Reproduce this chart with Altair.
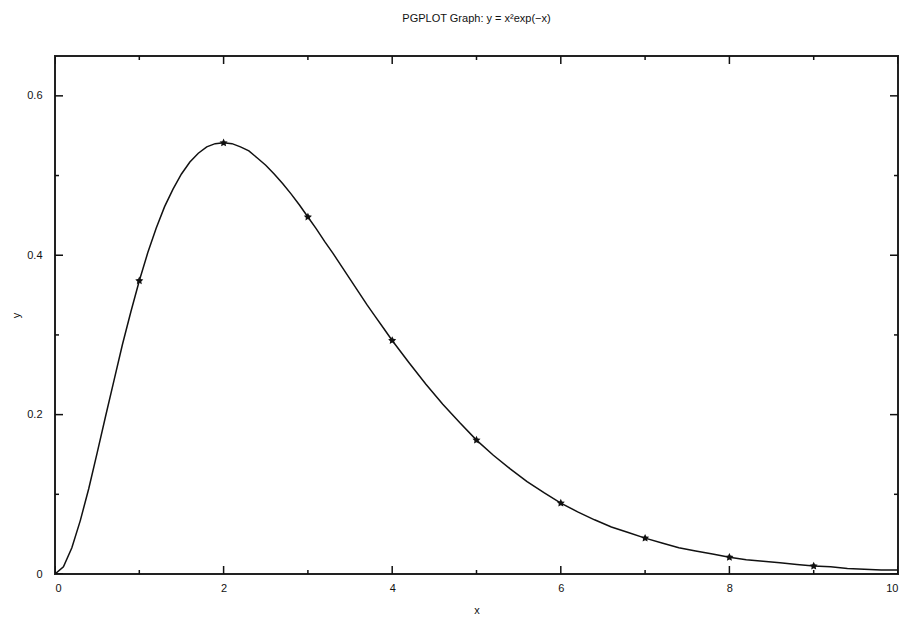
import altair as alt
import pandas as pd

# curve samples
curve_x = [0.0, 0.1, 0.2, 0.3, 0.4, 0.5, 0.6, 0.7, 0.8, 0.9, 1.0, 1.1, 1.2, 1.3, 1.4,
           1.5, 1.6, 1.7, 1.8, 1.9, 2.0, 2.1, 2.2, 2.3, 2.4, 2.5, 2.6, 2.7, 2.8, 2.9,
           3.0, 3.1, 3.2, 3.3, 3.4, 3.5, 3.6, 3.7, 3.8, 3.9,
           4.0, 4.2, 4.4, 4.6, 4.8, 5.0, 5.2, 5.4, 5.6, 5.8,
           6.0, 6.2, 6.4, 6.6, 6.8, 7.0, 7.2, 7.4, 7.6, 7.8, 8.0, 8.2, 8.4, 8.6, 8.8,
           9.0, 9.2, 9.4, 9.6, 9.8, 10.0]
curve_y = [0.0, 0.009, 0.033, 0.067, 0.107, 0.152, 0.198, 0.243, 0.288, 0.329, 0.368,
           0.403, 0.434, 0.461, 0.483, 0.502, 0.517, 0.528, 0.536, 0.540, 0.541,
           0.540, 0.536, 0.531, 0.522, 0.513, 0.502, 0.490, 0.477, 0.463,
           0.448, 0.433, 0.417, 0.402, 0.386, 0.370, 0.354, 0.338, 0.323, 0.308,
           0.293, 0.265, 0.238, 0.213, 0.190, 0.168, 0.149, 0.132, 0.116, 0.102,
           0.089, 0.078, 0.068, 0.059, 0.052, 0.045, 0.039, 0.033, 0.029, 0.025,
           0.021, 0.018, 0.016, 0.014, 0.012, 0.010, 0.009, 0.007, 0.006, 0.005, 0.005]

# star points
pts_x = [1, 2, 3, 4, 5, 6, 7, 8, 9]
pts_y = [0.368, 0.541, 0.448, 0.293, 0.168, 0.089, 0.045, 0.021, 0.010]

# axis ticks
x_major = [0, 2, 4, 6, 8, 10]
x_minor = [1, 3, 5, 7, 9]
y_major = [0, 0.2, 0.4, 0.6]
y_minor = [0.1, 0.3, 0.5]
x_domain = [0, 10]
y_domain = [0, 0.65]

W, H = 843, 518
MAJOR, MINOR = 8, 4
FONT = "Liberation Sans"
INK = "#111111"

xs = alt.Scale(domain=x_domain, nice=False, zero=False)
ys = alt.Scale(domain=y_domain, nice=False, zero=False)
x_axis = alt.Axis(values=x_major, ticks=False, domain=False, grid=False,
                  labelPadding=8, titlePadding=11, format="d")
y_axis = alt.Axis(values=y_major, ticks=False, domain=False, grid=False,
                  labelPadding=13, titlePadding=5, format="~g")

curve_df = pd.DataFrame({"x": curve_x, "y": curve_y})
pts_df = pd.DataFrame({"x": pts_x, "y": pts_y})

xt_rows = []
for v in x_major:
    for e in y_domain:
        xt_rows.append({"v": v, "e": e, "len": 2 * MAJOR})
for v in x_minor:
    for e in y_domain:
        xt_rows.append({"v": v, "e": e, "len": 2 * MINOR})
yt_rows = []
for v in y_major:
    for e in x_domain:
        yt_rows.append({"v": v, "e": e, "len": 2 * MAJOR})
for v in y_minor:
    for e in x_domain:
        yt_rows.append({"v": v, "e": e, "len": 2 * MINOR})
xt_df = pd.DataFrame(xt_rows)
yt_df = pd.DataFrame(yt_rows)

line = alt.Chart(curve_df).mark_line(color=INK, strokeWidth=1.5, clip=True).encode(
    x=alt.X("x:Q", scale=xs, title="x", axis=x_axis),
    y=alt.Y("y:Q", scale=ys, title="y", axis=y_axis),
)

star = "M0,-1L0.29,-0.4L0.951,-0.309L0.47,0.153L0.588,0.809L0,0.5L-0.588,0.809L-0.47,0.153L-0.951,-0.309L-0.29,-0.4Z"
points = alt.Chart(pts_df).mark_point(shape=star, filled=True, color=INK, size=72, opacity=1).encode(
    x=alt.X("x:Q", scale=xs, title="x", axis=x_axis),
    y=alt.Y("y:Q", scale=ys, title="y", axis=y_axis),
)

xticks = alt.Chart(xt_df).mark_tick(orient="vertical", clip=True, thickness=1.5, color=INK, opacity=1).encode(
    x=alt.X("v:Q", scale=xs, title="x", axis=x_axis),
    y=alt.Y("e:Q", scale=ys, title="y", axis=y_axis),
    size=alt.Size("len:Q", scale=None, legend=None),
)
yticks = alt.Chart(yt_df).mark_tick(orient="horizontal", clip=True, thickness=1.5, color=INK, opacity=1).encode(
    y=alt.Y("v:Q", scale=ys, title="y", axis=y_axis),
    x=alt.X("e:Q", scale=xs, title="x", axis=x_axis),
    size=alt.Size("len:Q", scale=None, legend=None),
)

chart = alt.layer(line, points, xticks, yticks).properties(
    width=W, height=H,
    title=alt.TitleParams("PGPLOT Graph: y = x²exp(−x)", anchor="middle", offset=32,
                          font=FONT, fontSize=11, fontWeight="normal", color=INK),
    autosize=alt.AutoSizeParams(type="none"),
    padding={"left": 47, "top": 48, "right": 2, "bottom": 46},
    background="white",
).configure_view(stroke="#222222", strokeWidth=2).configure_axis(
    labelFont=FONT, labelFontSize=11, labelColor=INK,
    titleFont=FONT, titleFontSize=11, titleFontWeight="normal", titleColor=INK,
)

chart.save("out.html", embed_options={"renderer": "svg", "actions": False})
